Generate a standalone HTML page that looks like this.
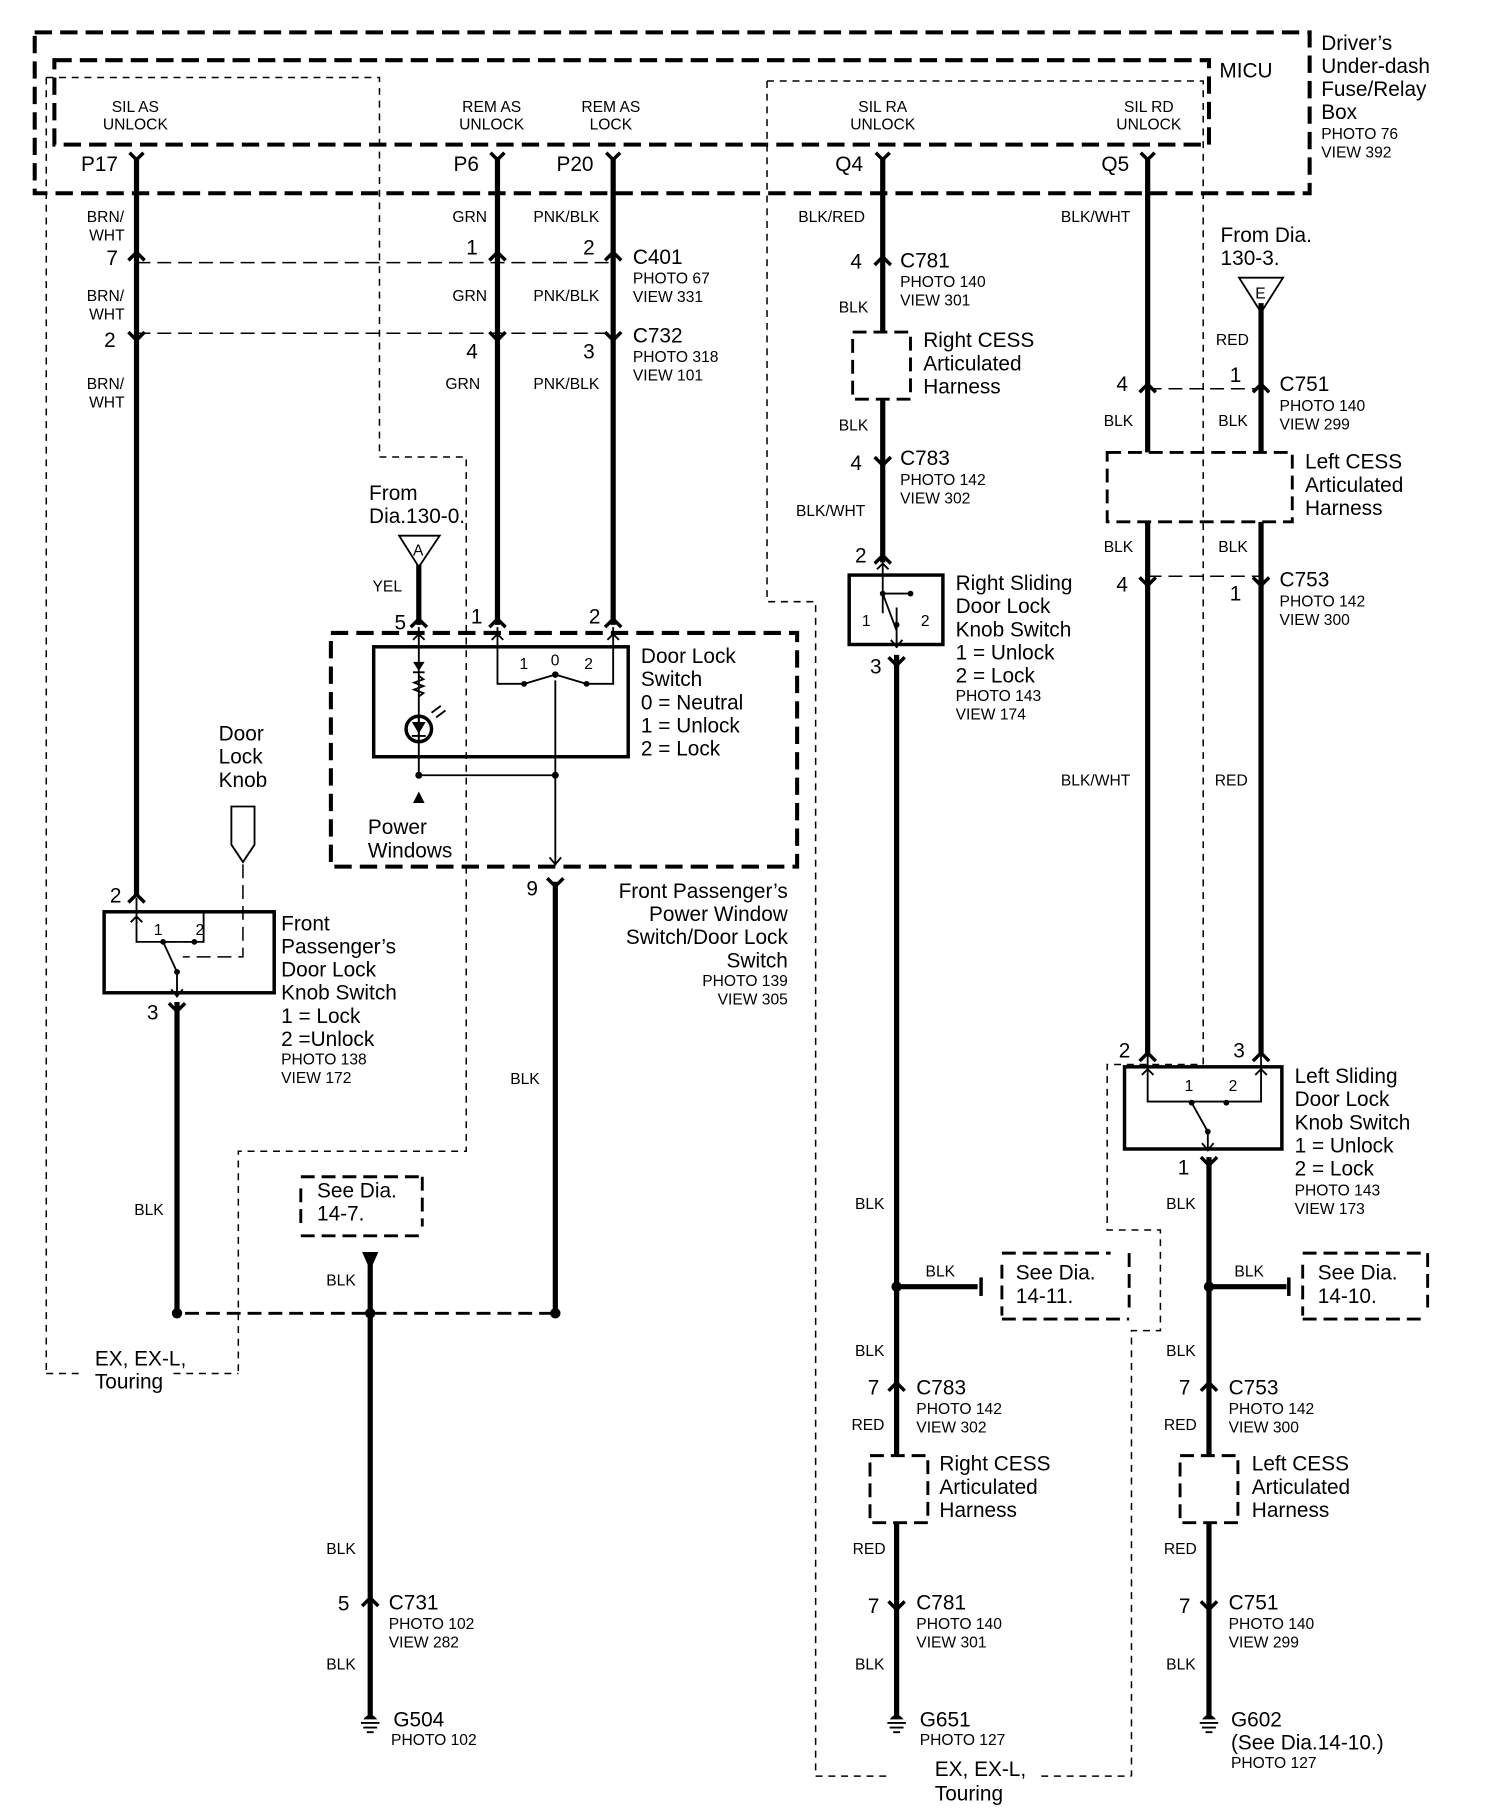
<!DOCTYPE html>
<html><head><meta charset="utf-8"><style>
html,body{margin:0;padding:0;background:#fff}
svg{display:block}
text{font-family:"Liberation Sans Narrow","Liberation Sans",sans-serif;fill:#000}
.b{font-size:18px}.s{font-size:13.5px}.p{font-size:18px}
.w{stroke:#000;stroke-width:4.5;fill:none}
.t{stroke:#000;stroke-width:1.6;fill:none}
.c{stroke:#000;stroke-width:3;fill:none}
.dk{stroke:#000;stroke-width:3.5;fill:none;stroke-dasharray:15,7}
.dt{stroke:#000;stroke-width:1.3;fill:none;stroke-dasharray:6,5}
.dm{stroke:#000;stroke-width:1.3;fill:none;stroke-dasharray:12,6}
.dc{stroke:#000;stroke-width:2.5;fill:none;stroke-dasharray:12,6}
</style></head><body>
<svg width="1504" height="1812" viewBox="0 0 1300 1566" preserveAspectRatio="none" xmlns="http://www.w3.org/2000/svg">
<rect x="30" y="28" width="1102" height="139" class="dk"/>
<rect x="47" y="52" width="998" height="73" class="dk"/>
<path class="dt" d="M40,67 H328 V395 H403 V995 H206 V1187 M40,67 V1187 M40,1187 H70 M150,1187 H206"/>
<path class="dt" d="M663,70 H1040 V920 H957 V1063 H1003 V1150 H978 V1535 M663,70 V520 H705 V1535 H770 M900,1535 H978"/>
<text class="b" x="1142" y="43">Driver’s</text>
<text class="b" x="1142" y="63">Under-dash</text>
<text class="b" x="1142" y="83">Fuse/Relay</text>
<text class="b" x="1142" y="103">Box</text>
<text class="s" x="1142" y="120">PHOTO 76</text>
<text class="s" x="1142" y="136">VIEW 392</text>
<text class="b" x="1054" y="67">MICU</text>
<g class="s" text-anchor="middle">
<text x="117" y="97">SIL AS</text><text x="117" y="112">UNLOCK</text>
<text x="425" y="97">REM AS</text><text x="425" y="112">UNLOCK</text>
<text x="528" y="97">REM AS</text><text x="528" y="112">LOCK</text>
<text x="763" y="97">SIL RA</text><text x="763" y="112">UNLOCK</text>
<text x="993" y="97">SIL RD</text><text x="993" y="112">UNLOCK</text>
</g>
<g class="p"><text x="70" y="148">P17</text><text x="392" y="148">P6</text><text x="481" y="148">P20</text><text x="722" y="148">Q4</text><text x="952" y="148">Q5</text></g>
<g class="c">
<polyline points="112,132 118,138 124,132"/><polyline points="424,132 430,138 436,132"/><polyline points="524,132 530,138 536,132"/>
<polyline points="757,132 763,138 769,132"/><polyline points="986,132 992,138 998,132"/>
</g>
<g class="w">
<path d="M118,136 V775"/><path d="M430,136 V540"/><path d="M530,136 V540"/>
<path d="M763,136 V287 M763,345 V486"/><path d="M775,566 V1258 M775,1316 V1485"/>
<path d="M992,136 V391 M992,451 V910"/><path d="M1090,262 V391 M1090,451 V910"/>
<path d="M1045,1000 V1258 M1045,1316 V1485"/>
<path d="M362,488 V540"/><path d="M480,762 V1135"/><path d="M153,866 V1135"/>
<path d="M320,1085 V1485"/>
<path d="M775,1112 H845"/><path d="M1045,1112 H1112"/>
</g>
<g class="c">
<polyline points="111,225 118,218 125,225"/><polyline points="423,225 430,218 437,225"/><polyline points="523,225 530,218 537,225"/>
<polyline points="111,287 118,294 125,287"/><polyline points="423,287 430,294 437,287"/><polyline points="523,287 530,294 537,287"/>
<polyline points="756,229 763,222 770,229"/><polyline points="756,395 763,402 770,395"/>
<polyline points="756,487 763,480 770,487"/>
<polyline points="985,339 992,332 999,339"/><polyline points="1083,339 1090,332 1097,339"/>
<polyline points="985,499 992,506 999,499"/><polyline points="1083,499 1090,506 1097,499"/>
<polyline points="985,917 992,910 999,917"/><polyline points="1083,917 1090,910 1097,917"/>
<polyline points="768,568 775,575 782,568"/><polyline points="1038,1000 1045,1007 1052,1000"/>
<polyline points="768,1202 775,1195 782,1202"/><polyline points="768,1384 775,1391 782,1384"/>
<polyline points="1038,1202 1045,1195 1052,1202"/><polyline points="1038,1384 1045,1391 1052,1384"/>
<polyline points="313,1388 320,1381 327,1388"/>
<polyline points="355,542 362,535 369,542"/><polyline points="423,542 430,535 437,542"/><polyline points="523,542 530,535 537,542"/>
<polyline points="473,759 480,766 487,759"/>
<polyline points="111,780 118,773 125,780"/><polyline points="146,867 153,874 160,867"/>
</g>
<path class="dm" d="M118,227 H530 M118,288 H530 M992,336 H1090 M992,498 H1090"/>
<g class="p">
<text x="92" y="229">7</text><text x="403" y="220">1</text><text x="504" y="220">2</text>
<text x="90" y="300">2</text><text x="403" y="310">4</text><text x="504" y="310">3</text>
<text x="547" y="228">C401</text><text x="547" y="296">C732</text>
<text x="735" y="232">4</text><text x="778" y="231">C781</text>
<text x="735" y="406">4</text><text x="778" y="402">C783</text>
<text x="739" y="486">2</text><text x="752" y="582">3</text>
<text x="965" y="338">4</text><text x="1063" y="330">1</text><text x="1106" y="338">C751</text>
<text x="965" y="511">4</text><text x="1063" y="519">1</text><text x="1106" y="507">C753</text>
<text x="967" y="914">2</text><text x="1066" y="914">3</text><text x="1018" y="1015">1</text>
<text x="750" y="1205">7</text><text x="792" y="1205">C783</text>
<text x="750" y="1394">7</text><text x="792" y="1391">C781</text>
<text x="1019" y="1205">7</text><text x="1062" y="1205">C753</text>
<text x="1019" y="1394">7</text><text x="1062" y="1391">C751</text>
<text x="292" y="1392">5</text><text x="336" y="1391">C731</text>
<text x="340" y="1492">G504</text><text x="795" y="1492">G651</text><text x="1064" y="1492">G602</text>
<text x="1064" y="1512">(See Dia.14-10.)</text>
<text x="341" y="544">5</text><text x="407" y="539">1</text><text x="509" y="539">2</text>
<text x="455" y="774">9</text><text x="95" y="780">2</text><text x="127" y="881">3</text>
</g>
<g class="s">
<text x="547" y="245">PHOTO 67</text><text x="547" y="261">VIEW 331</text>
<text x="547" y="313">PHOTO 318</text><text x="547" y="329">VIEW 101</text>
<text x="778" y="248">PHOTO 140</text><text x="778" y="264">VIEW 301</text>
<text x="778" y="419">PHOTO 142</text><text x="778" y="435">VIEW 302</text>
<text x="1106" y="355">PHOTO 140</text><text x="1106" y="371">VIEW 299</text>
<text x="1106" y="524">PHOTO 142</text><text x="1106" y="540">VIEW 300</text>
<text x="792" y="1222">PHOTO 142</text><text x="792" y="1238">VIEW 302</text>
<text x="792" y="1408">PHOTO 140</text><text x="792" y="1424">VIEW 301</text>
<text x="1062" y="1222">PHOTO 142</text><text x="1062" y="1238">VIEW 300</text>
<text x="1062" y="1408">PHOTO 140</text><text x="1062" y="1424">VIEW 299</text>
<text x="336" y="1408">PHOTO 102</text><text x="336" y="1424">VIEW 282</text>
<text x="338" y="1508">PHOTO 102</text><text x="795" y="1508">PHOTO 127</text><text x="1064" y="1528">PHOTO 127</text>
<text x="75" y="192">BRN/</text><text x="77" y="208">WHT</text>
<text x="75" y="260">BRN/</text><text x="77" y="276">WHT</text>
<text x="75" y="336">BRN/</text><text x="77" y="352">WHT</text>
<text x="391" y="192">GRN</text><text x="391" y="260">GRN</text><text x="385" y="336">GRN</text>
<text x="461" y="192">PNK/BLK</text><text x="461" y="260">PNK/BLK</text><text x="461" y="336">PNK/BLK</text>
<text x="690" y="192">BLK/RED</text><text x="725" y="270">BLK</text><text x="725" y="372">BLK</text><text x="688" y="446">BLK/WHT</text>
<text x="917" y="192">BLK/WHT</text><text x="1051" y="298">RED</text>
<text x="954" y="368">BLK</text><text x="1053" y="368">BLK</text><text x="954" y="477">BLK</text><text x="1053" y="477">BLK</text>
<text x="917" y="679">BLK/WHT</text><text x="1050" y="679">RED</text>
<text x="322" y="511">YEL</text><text x="441" y="937">BLK</text><text x="116" y="1050">BLK</text>
<text x="282" y="1111">BLK</text><text x="282" y="1343">BLK</text><text x="282" y="1443">BLK</text>
<text x="739" y="1045">BLK</text><text x="800" y="1103">BLK</text><text x="739" y="1172">BLK</text><text x="736" y="1236">RED</text><text x="737" y="1343">RED</text><text x="739" y="1443">BLK</text>
<text x="1008" y="1045">BLK</text><text x="1067" y="1103">BLK</text><text x="1008" y="1172">BLK</text><text x="1006" y="1236">RED</text><text x="1006" y="1343">RED</text><text x="1008" y="1443">BLK</text>
</g>
<rect x="737" y="287" width="50" height="58" class="dc"/>
<rect x="957" y="391" width="160" height="60" class="dc"/>
<rect x="752" y="1258" width="50" height="58" class="dc"/>
<rect x="1020" y="1258" width="50" height="58" class="dc"/>
<g class="b">
<text x="798" y="300">Right CESS</text><text x="798" y="320">Articulated</text><text x="798" y="340">Harness</text>
<text x="1128" y="405">Left CESS</text><text x="1128" y="425">Articulated</text><text x="1128" y="445">Harness</text>
<text x="812" y="1271">Right CESS</text><text x="812" y="1291">Articulated</text><text x="812" y="1311">Harness</text>
<text x="1082" y="1271">Left CESS</text><text x="1082" y="1291">Articulated</text><text x="1082" y="1311">Harness</text>
</g>
<text class="b" x="1055" y="209">From Dia.</text><text class="b" x="1055" y="229">130-3.</text>
<polygon points="1071,240 1109,240 1090,270" class="t"/><text class="s" x="1085" y="258">E</text>
<rect x="734" y="497" width="81" height="60" class="c"/>
<path class="t" d="M763,486 V530 M758,492 L763,487 768,492 M775,525 V560 M770,553 L775,559 780,553 M763,513 L775,545 M763,513 H786"/>
<circle cx="763" cy="513" r="2.5"/><circle cx="787" cy="513" r="2.5"/><circle cx="775" cy="540" r="2.5"/>
<text class="s" x="745" y="541">1</text><text class="s" x="796" y="541">2</text>
<g class="b"><text x="826" y="510">Right Sliding</text><text x="826" y="530">Door Lock</text><text x="826" y="550">Knob Switch</text><text x="826" y="570">1 = Unlock</text><text x="826" y="590">2 = Lock</text></g>
<text class="s" x="826" y="606">PHOTO 143</text><text class="s" x="826" y="622">VIEW 174</text>
<rect x="972" y="922" width="136" height="71" class="c"/>
<path class="t" d="M992,912 V952 H1090 V912 M987,929 L992,924 997,929 M1085,929 L1090,924 1095,929 M1030,953 L1044,978 V995 M1039,988 L1044,994 1049,988"/>
<circle cx="1030" cy="953" r="2.5"/><circle cx="1060" cy="953" r="2.5"/><circle cx="1044" cy="978" r="2.5"/>
<text class="s" x="1024" y="943">1</text><text class="s" x="1062" y="943">2</text>
<g class="b"><text x="1119" y="936">Left Sliding</text><text x="1119" y="956">Door Lock</text><text x="1119" y="976">Knob Switch</text><text x="1119" y="996">1 = Unlock</text><text x="1119" y="1016">2 = Lock</text></g>
<text class="s" x="1119" y="1033">PHOTO 143</text><text class="s" x="1119" y="1049">VIEW 173</text>
<path class="dc" d="M866,1083 H960 M866,1140 H976 M866,1093 V1137 M976,1083 V1130"/>
<path class="c" d="M848,1104 V1120"/>
<text class="b" x="878" y="1106">See Dia.</text><text class="b" x="878" y="1126">14-11.</text>
<path class="dc" d="M1126,1083 H1234 M1126,1140 H1234 M1126,1093 V1137 M1234,1083 V1130"/>
<path class="c" d="M1114,1104 V1120"/>
<text class="b" x="1139" y="1106">See Dia.</text><text class="b" x="1139" y="1126">14-10.</text>
<path class="dc" d="M260,1017 H365 M260,1068 H365 M260,1027 V1062 M365,1017 V1060"/>
<text class="b" x="274" y="1035">See Dia.</text><text class="b" x="274" y="1055">14-7.</text>
<polygon points="313,1082 327,1082 320,1098"/>
<circle cx="775" cy="1112" r="4.5"/><circle cx="1045" cy="1112" r="4.5"/>
<path d="M160,1135 H480" class="dc"/>
<circle cx="153" cy="1135" r="4.5"/><circle cx="320" cy="1135" r="4.5"/><circle cx="480" cy="1135" r="4.5"/>
<g>
<path d="M314,1486 Q320,1478 326,1486 Z"/><path class="t" d="M312,1489 H328 M314,1493 H326 M317,1497 H323"/>
<path d="M769,1486 Q775,1478 781,1486 Z"/><path class="t" d="M767,1489 H783 M769,1493 H781 M772,1497 H778"/>
<path d="M1039,1486 Q1045,1478 1051,1486 Z"/><path class="t" d="M1037,1489 H1053 M1039,1493 H1051 M1042,1497 H1048"/>
</g>
<text class="b" x="808" y="1535">EX, EX-L,</text><text class="b" x="808" y="1556">Touring</text>
<text class="b" x="82" y="1180">EX, EX-L,</text><text class="b" x="82" y="1200">Touring</text>
<rect x="286" y="547" width="403" height="202" class="dk"/>
<rect x="323" y="559" width="220" height="95" class="c"/>
<polygon points="345,463 380,463 362,490" class="t"/><text class="s" x="357" y="480">A</text>
<text class="b" x="319" y="432">From</text><text class="b" x="319" y="452">Dia.130-0.</text>
<path class="t" d="M362,542 V672 M357,553 L362,548 367,553 M430,542 V591 H453 M425,553 L430,548 435,553 M530,542 V591 H507 M525,553 L530,548 535,553 M480,588 V748 M475,741 L480,747 485,741 M453,591 L480,583 507,591 M362,670 H480"/>
<polygon points="357,572 367,572 362,580"/><path class="t" d="M357,581 H367"/>
<path class="t" d="M362,584 l4,3 -8,3 8,3 -8,3 8,3 -4,3"/>
<circle cx="362" cy="630" r="11" class="c"/><polygon points="356,624 368,624 362,634"/><path class="t" d="M356,636 H368 M362,618 V642"/>
<path class="t" d="M373,616 l8,-6 M377,620 l8,-6"/>
<circle cx="453" cy="591" r="2.5"/><circle cx="507" cy="591" r="2.5"/><circle cx="480" cy="583" r="2.8"/>
<circle cx="362" cy="670" r="3"/><circle cx="480" cy="670" r="3"/>
<polygon points="357,694 367,694 362,684"/>
<text class="s" x="449" y="578">1</text><text class="s" x="476" y="575">0</text><text class="s" x="505" y="578">2</text>
<g class="b"><text x="554" y="573">Door Lock</text><text x="554" y="593">Switch</text><text x="554" y="613">0 = Neutral</text><text x="554" y="633">1 = Unlock</text><text x="554" y="653">2  = Lock</text>
<text x="318" y="721">Power</text><text x="318" y="741">Windows</text></g>
<g class="b" text-anchor="end"><text x="681" y="776">Front Passenger’s</text><text x="681" y="796">Power Window</text><text x="681" y="816">Switch/Door Lock</text><text x="681" y="836">Switch</text></g>
<g class="s" text-anchor="end"><text x="681" y="852">PHOTO 139</text><text x="681" y="868">VIEW 305</text></g>
<text class="b" x="189" y="640">Door</text><text class="b" x="189" y="660">Lock</text><text class="b" x="189" y="680">Knob</text>
<path class="t" d="M200,697 H220 V730 L210,745 200,730 Z"/>
<path class="dm" d="M210,747 V827 H158"/>
<rect x="90" y="788" width="147" height="70" class="c"/>
<path class="t" d="M118,776 V814 H176 V788 M113,797 L118,792 123,797 M141,814 L153,840 V862 M148,855 L153,861 158,855"/>
<path class="dm" d="M141,814 H167"/>
<circle cx="141" cy="814" r="2.5"/><circle cx="168" cy="814" r="2.5"/><circle cx="153" cy="840" r="2.5"/>
<text class="s" x="133" y="808">1</text><text class="s" x="169" y="808">2</text>
<g class="b"><text x="243" y="804">Front</text><text x="243" y="824">Passenger’s</text><text x="243" y="844">Door Lock</text><text x="243" y="864">Knob Switch</text><text x="243" y="884">1 = Lock</text><text x="243" y="904">2  =Unlock</text></g>
<text class="s" x="243" y="920">PHOTO 138</text><text class="s" x="243" y="936">VIEW 172</text>
</svg>
</body></html>
